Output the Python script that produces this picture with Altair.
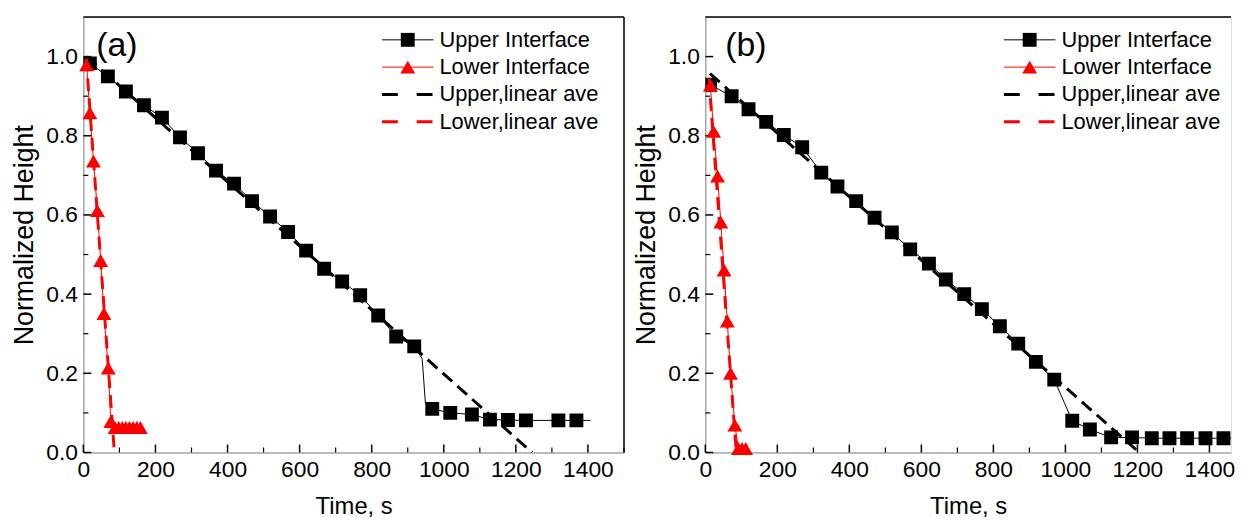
import altair as alt
import pandas as pd

FONT = "Liberation Sans"
RED = "#ff0000"

# ---------------- Panel (a) ----------------
a_up_t = [18, 68, 118, 168, 218, 268, 318, 368, 418, 468, 518, 568, 618, 668, 718, 768,
          818, 868, 918, 968, 1018, 1078, 1128, 1178, 1228, 1318, 1368]
a_up_h = [0.983, 0.950, 0.912, 0.877, 0.846, 0.796, 0.756, 0.712, 0.679, 0.635, 0.596, 0.557,
          0.510, 0.464, 0.432, 0.397, 0.346, 0.293, 0.268, 0.110, 0.100, 0.096, 0.083, 0.082,
          0.081, 0.081, 0.081]
# thin connecting line (includes unmarked points)
a_line_t = [10, 18, 68, 118, 168, 218, 268, 318, 368, 418, 468, 518, 568, 618, 668, 718, 768,
            818, 868, 918, 940, 949, 968, 1018, 1078, 1128, 1178, 1228, 1318, 1368, 1407]
a_line_h = [0.995, 0.983, 0.950, 0.912, 0.877, 0.846, 0.796, 0.756, 0.712, 0.679, 0.635, 0.596,
            0.557, 0.510, 0.464, 0.432, 0.397, 0.346, 0.293, 0.268, 0.237, 0.125, 0.110, 0.100,
            0.096, 0.083, 0.082, 0.081, 0.081, 0.081, 0.081]
a_low_t = [9, 18, 28, 39, 48, 57, 69, 76, 88, 98, 108, 118, 128, 138, 148, 158]
a_low_h = [0.979, 0.858, 0.736, 0.611, 0.485, 0.351, 0.213, 0.078, 0.063, 0.063, 0.063,
           0.063, 0.063, 0.063, 0.063, 0.063]
a_uave_t = [9, 1245]
a_uave_h = [1.0, 0.0]
a_lave_t = [8, 86]
a_lave_h = [0.995, 0.0]

# ---------------- Panel (b) ----------------
b_up_t = [13, 73, 120, 169, 218, 269, 322, 367, 419, 470, 518, 569, 621, 668, 719, 768, 818,
          869, 918, 969, 1019, 1068, 1127, 1185, 1240, 1289, 1338, 1389, 1439]
b_up_h = [0.929, 0.900, 0.867, 0.835, 0.802, 0.771, 0.707, 0.672, 0.635, 0.593, 0.556, 0.513,
          0.477, 0.437, 0.400, 0.362, 0.319, 0.275, 0.229, 0.184, 0.080, 0.058, 0.038, 0.038,
          0.036, 0.036, 0.036, 0.036, 0.036]
b_line_t = [6, 13, 73, 120, 169, 218, 269, 322, 367, 419, 470, 518, 569, 621, 668, 719, 768, 818,
            869, 918, 969, 1019, 1068, 1127, 1185, 1240, 1289, 1338, 1389, 1439, 1490]
b_line_h = [0.945, 0.929, 0.900, 0.867, 0.835, 0.802, 0.771, 0.707, 0.672, 0.635, 0.593, 0.556,
            0.513, 0.477, 0.437, 0.400, 0.362, 0.319, 0.275, 0.229, 0.184, 0.080, 0.058, 0.038,
            0.038, 0.036, 0.036, 0.036, 0.036, 0.036, 0.036]
b_low_t = [14, 23, 34, 43, 52, 61, 70, 82, 92, 102, 112]
b_low_h = [0.928, 0.811, 0.698, 0.582, 0.461, 0.332, 0.200, 0.069, 0.010, 0.010, 0.010]
b_uave_t = [13, 1205]
b_uave_h = [0.957, 0.0]
b_lave_t = [10, 86]
b_lave_h = [0.945, 0.0]

# ---------------- Axes ----------------
x_major = [0, 200, 400, 600, 800, 1000, 1200, 1400]
x_minor = [100, 300, 500, 700, 900, 1100, 1300, 1500]
y_major = [0.0, 0.2, 0.4, 0.6, 0.8, 1.0]
y_minor = [0.1, 0.3, 0.5, 0.7, 0.9]
legend_labels = ["Upper Interface", "Lower Interface", "Upper,linear ave", "Lower,linear ave"]

H = 439
PX_PER_S = 545 / 1500
SQ = 196
TRI = 225


def panel(tag, up_t, up_h, line_t, line_h, low_t, low_h, uave_t, uave_h, lave_t, lave_h,
          xmax, right_border, tag_x):
    W = round(xmax * PX_PER_S)
    xs = alt.Scale(domain=[0, xmax], nice=False, zero=False)
    ys = alt.Scale(domain=[0, 1.1], nice=False, zero=False)
    xaxis = alt.Axis(values=x_major, format="d", title="Time, s", labelFontSize=23,
                     titleFontSize=24, titleFontWeight="normal", labelPadding=6,
                     titlePadding=14, labelFlush=False, labelOverlap=False, ticks=False,
                     tickSize=0, grid=False)
    yaxis = alt.Axis(values=y_major, format=".1f", title="Normalized Height", labelFontSize=23,
                     titleFontSize=27, titleFontWeight="normal", labelPadding=6,
                     titlePadding=7, ticks=False, tickSize=0, grid=False)

    def X(f):
        return alt.X(f"{f}:Q", scale=xs, axis=xaxis)

    def Y(f):
        return alt.Y(f"{f}:Q", scale=ys, axis=yaxis)

    one = pd.DataFrame({"k": [0]})
    layers = []
    # inward ticks
    xmaj = pd.DataFrame({"v": [v for v in x_major if v <= xmax]})
    xmin = pd.DataFrame({"v": [v for v in x_minor if v <= xmax]})
    layers.append(alt.Chart(xmaj).mark_rule(color="black", strokeWidth=1.5).encode(
        x=X("v"), y=alt.value(H), y2=alt.value(H - 8)))
    layers.append(alt.Chart(xmin).mark_rule(color="black", strokeWidth=1.2).encode(
        x=X("v"), y=alt.value(H), y2=alt.value(H - 5)))
    layers.append(alt.Chart(pd.DataFrame({"v": y_major})).mark_rule(color="black", strokeWidth=1.5).encode(
        y=Y("v"), x=alt.value(0), x2=alt.value(8)))
    layers.append(alt.Chart(pd.DataFrame({"v": y_minor})).mark_rule(color="black", strokeWidth=1.2).encode(
        y=Y("v"), x=alt.value(0), x2=alt.value(5)))

    # frame top / right
    layers.append(alt.Chart(one).mark_rule(color="black", strokeWidth=1.5).encode(
        x=alt.value(0), x2=alt.value(W), y=alt.value(0)))
    if right_border:
        layers.append(alt.Chart(one).mark_rule(color="black", strokeWidth=1.5).encode(
            x=alt.value(W), y=alt.value(0), y2=alt.value(H)))

    # thin lines
    layers.append(alt.Chart(pd.DataFrame({"t": line_t, "h": line_h})).mark_line(
        color="black", strokeWidth=1, clip=True).encode(x=X("t"), y=Y("h")))
    layers.append(alt.Chart(pd.DataFrame({"t": low_t, "h": low_h})).mark_line(
        color=RED, strokeWidth=1, clip=True).encode(x=X("t"), y=Y("h")))
    # markers
    layers.append(alt.Chart(pd.DataFrame({"t": up_t, "h": up_h})).mark_point(
        shape="square", filled=True, size=SQ, color="black", opacity=1, clip=True).encode(
        x=X("t"), y=Y("h")))
    layers.append(alt.Chart(pd.DataFrame({"t": low_t, "h": low_h})).mark_point(
        shape="triangle-up", filled=True, size=TRI, color=RED, opacity=1).encode(
        x=X("t"), y=Y("h")))
    # linear averages
    layers.append(alt.Chart(pd.DataFrame({"t": uave_t, "h": uave_h})).mark_line(
        color="black", strokeWidth=3, strokeDash=[13, 7], clip=True).encode(x=X("t"), y=Y("h")))
    layers.append(alt.Chart(pd.DataFrame({"t": lave_t, "h": lave_h})).mark_line(
        color=RED, strokeWidth=3, strokeDash=[13, 7], clip=True).encode(x=X("t"), y=Y("h")))

    # panel tag
    layers.append(alt.Chart(pd.DataFrame({"label": [tag]})).mark_text(
        align="left", baseline="middle", fontSize=34, font=FONT, color="black").encode(
        x=alt.value(tag_x), y=alt.value(29), text="label:N"))

    # legend
    rows = [23, 50.5, 78, 105.5]
    styles = [("black", 1, None, "square", SQ),
              (RED, 1, None, "triangle-up", TRI),
              ("black", 3, [16, 19], None, 0),
              (RED, 3, [16, 19], None, 0)]
    for lab, yy, (c, sw, dash, shp, sz) in zip(legend_labels, rows, styles):
        d = pd.DataFrame({"label": [lab]})
        kw = dict(color=c, strokeWidth=sw)
        if dash:
            kw["strokeDash"] = dash
        layers.append(alt.Chart(d).mark_rule(**kw).encode(
            x=alt.value(301), x2=alt.value(353), y=alt.value(yy)))
        if shp:
            layers.append(alt.Chart(d).mark_point(shape=shp, filled=True, size=sz, color=c,
                                                  opacity=1).encode(
                x=alt.value(327), y=alt.value(yy)))
        layers.append(alt.Chart(d).mark_text(align="left", baseline="middle", fontSize=22,
                                             font=FONT, color="black").encode(
            x=alt.value(359), y=alt.value(yy), text="label:N"))

    return alt.layer(*layers).properties(width=W, height=H)


pa = panel("(a)", a_up_t, a_up_h, a_line_t, a_line_h, a_low_t, a_low_h,
           a_uave_t, a_uave_h, a_lave_t, a_lave_h, 1500, True, 13)
pb = panel("(b)", b_up_t, b_up_h, b_line_t, b_line_h, b_low_t, b_low_h,
           b_uave_t, b_uave_h, b_lave_t, b_lave_h, 1460, False, 20)

chart = alt.hconcat(pa, pb, spacing=6).properties(
    padding={"left": 2, "top": 5, "right": 0, "bottom": 0}
).configure_view(stroke=None).configure_axis(
    labelFont=FONT, titleFont=FONT, labelColor="black", titleColor="black",
    domainColor="black", domainWidth=1.5, titleFontWeight="normal"
).configure(background="white")

chart.save("out.html", embed_options={"renderer": "svg", "actions": False})
